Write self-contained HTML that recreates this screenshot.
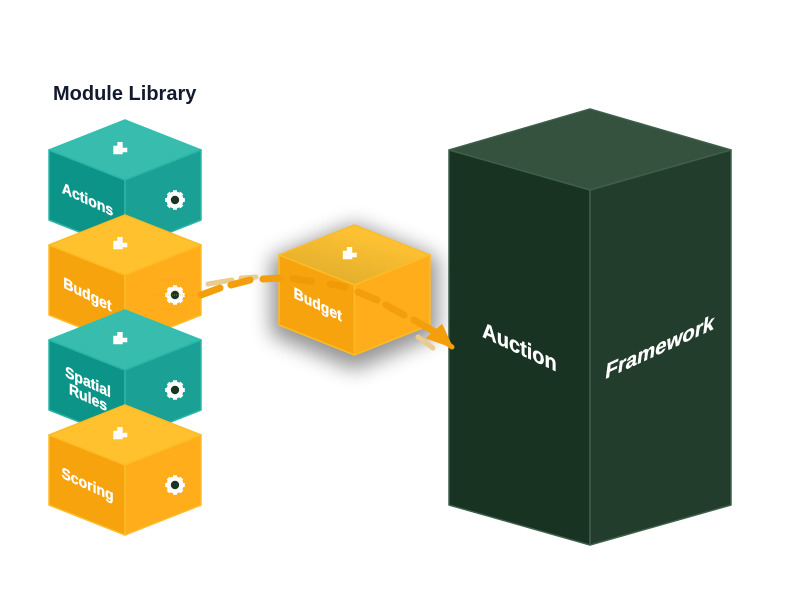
<!DOCTYPE html>
<html><head><meta charset="utf-8"><style>
html,body{margin:0;padding:0;background:#fff;width:800px;height:600px;overflow:hidden}
svg{display:block}
text{font-family:"Liberation Sans",sans-serif;font-weight:bold;fill:#fff;stroke:#fff;stroke-width:.3}
</style></head><body>
<svg width="800" height="600" viewBox="0 0 800 600" xmlns="http://www.w3.org/2000/svg">
<defs>
<filter id="bl" x="-50%" y="-50%" width="200%" height="200%"><feGaussianBlur stdDeviation="10"/></filter>
<linearGradient id="tg" x1="0.1" y1="1" x2="0.6" y2="0.2"><stop offset="0" stop-color="#dcaa2c"/><stop offset="1" stop-color="#fdc132"/></linearGradient>
<path id="puz" d="M-11.7 25.7H-7.7V22H-2.3V27.7H2.3V32.3H-2.3V34.3H-11.7Z" fill="#fff"/>
<g id="gear">
<circle r="8.5" fill="#fff"/>
<path d="M-2-9.8H2V9.8H-2ZM-9.8-2H9.8V2H-9.8Z" fill="#fff"/>
<path d="M-2-9.8H2V9.8H-2ZM-9.8-2H9.8V2H-9.8Z" fill="#fff" transform="rotate(45)"/>
<circle r="4.2" fill="#1a3524"/>
</g>
<g id="teal" stroke="#2cb5a6" stroke-width="1.5" stroke-linejoin="round">
<path d="M0 0 76 30 0 60-76 30Z" fill="#37bcae" stroke="#2fc0b1"/>
<path d="M-76 30 0 60V130L-76 100Z" fill="#0d9488"/>
<path d="M76 30 0 60V130L76 100Z" fill="#1aa094"/>
</g>
<g id="amber" stroke="#fdbb26" stroke-width="1.5" stroke-linejoin="round">
<path d="M0 0 76 30 0 60-76 30Z" fill="#ffc22e"/>
<path d="M-76 30 0 60V130L-76 100Z" fill="#f7a30e"/>
<path d="M76 30 0 60V130L76 100Z" fill="#ffad1a"/>
</g>
</defs>

<text x="53" y="100" font-size="20" style="fill:#111a2e;stroke:none">Module Library</text>

<g transform="translate(125 120)"><use href="#teal"/><use href="#puz"/><use href="#gear" x="50" y="80"/>
<text transform="translate(-37.5 79) matrix(1 .46 0 1.1 0 0)" text-anchor="middle" dy="5" font-size="14">Actions</text></g>

<g transform="translate(125 215)"><use href="#amber"/><use href="#puz"/><use href="#gear" x="50" y="80"/>
<text transform="translate(-37.5 79) matrix(1 .5 0 1.1 0 0)" text-anchor="middle" dy="5" font-size="14">Budget</text></g>

<g stroke="#ee9a0c" stroke-width="1" stroke-dasharray="1 1" opacity=".55" fill="none">
<path d="M158 280H186M154 295H196M158 309H186"/>
</g>

<g transform="translate(125 310)"><use href="#teal"/><use href="#puz"/><use href="#gear" x="50" y="80"/>
<text transform="translate(-37 71.5) matrix(1 .46 0 1.1 0 0)" text-anchor="middle" dy="5" font-size="14">Spatial</text>
<text transform="translate(-37 87) matrix(1 .46 0 1.1 0 0)" text-anchor="middle" dy="5" font-size="14">Rules</text></g>

<g transform="translate(125 405)"><use href="#amber"/><use href="#puz"/><use href="#gear" x="50" y="80"/>
<text transform="translate(-37.5 79) matrix(1 .46 0 1.1 0 0)" text-anchor="middle" dy="5" font-size="14">Scoring</text></g>

<path d="M354.5 224 438 258V335L354.5 370 271 335V258Z" fill="#000" opacity=".42" filter="url(#bl)"/>

<g stroke-linejoin="round" stroke-width="1.5" stroke="#3f5e4b">
<path d="M590 109 731 150 590 190 449 150Z" fill="#35523f"/>
<path d="M449 150 590 190V545L449 505Z" fill="#183322"/>
<path d="M731 150 590 190V545L731 505Z" fill="#223d2c"/>
</g>
<text transform="translate(519.5 346.5) matrix(1 .47 0 1.1 0 0)" text-anchor="middle" dy="7" font-size="20">Auction</text>
<text transform="translate(660 346.5) matrix(1.02 -.47 -.14 1.1 0 0)" text-anchor="middle" dy="7" font-size="20">Framework</text>

<g transform="translate(354.5 225)">
<g stroke="#fdbb26" stroke-width="1.5" stroke-linejoin="round">
<path d="M0 0 75.5 30 0 60-75.5 30Z" fill="url(#tg)"/>
<path d="M-75.5 30 0 60V130L-75.5 100Z" fill="#f7a30e"/>
<path d="M75.5 30 0 60V130L75.5 100Z" fill="#ffad1a"/>
</g></g>
<use href="#puz" x="354.5" y="225"/>
<text transform="translate(317.7 304) matrix(1 .5 0 1.1 0 0)" text-anchor="middle" dy="5" font-size="14">Budget</text>

<g fill="none" stroke-linecap="round">
<path d="M208 284 232 280M241 278 256 277M418 337 433 348" stroke="#eccb8e" stroke-width="5"/>
<path d="M201 295 220 288M231 285 250 280M263 279 281 278M358 292 377 300M386 305 404 315M414 320 437 333" stroke="#f59e0b" stroke-width="7"/>
<path d="M293 278.500 312 281.500M330 284 345 287" stroke="#f09a08" stroke-width="7"/>
<path d="M442 325 452 347 427 338Z" fill="#f59e0b" stroke="#f59e0b" stroke-width="1.500" stroke-linejoin="round"/>
<path d="M437 336 452 347" stroke="#f59e0b" stroke-width="5"/>
</g>
</svg>
</body></html>
